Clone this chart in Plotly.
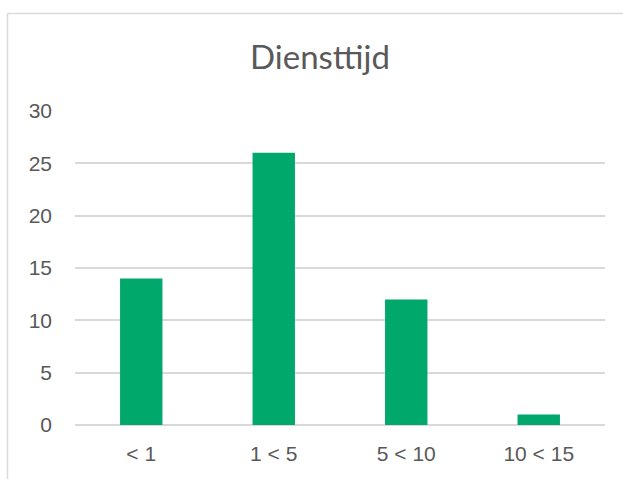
import plotly.graph_objects as go

categories = ["< 1", "1 < 5", "5 < 10", "10 < 15"]
values = [14, 26, 12, 1]
y_ticks = [0, 5, 10, 15, 20, 25, 30]

W, H = 623, 479
ml, mr, mt, mb = 75, 18, 111, 54
pw, ph = W - ml - mr, H - mt - mb

def px_x(x):
    return (x - ml) / pw

def px_y(y):
    return 1 - (y - mt) / ph

fig = go.Figure(go.Bar(
    x=categories, y=values,
    marker=dict(color="#00A86B", line=dict(width=0)),
    width=0.32,
))

border = dict(color="#d9d9d9", width=1.5)
fig.add_shape(type="line", xref="paper", yref="paper",
              x0=px_x(7.5), x1=px_x(7.5), y0=px_y(13.5), y1=px_y(H + 5), line=border)
fig.add_shape(type="line", xref="paper", yref="paper",
              x0=px_x(7.5), x1=px_x(W + 5), y0=px_y(13.5), y1=px_y(13.5), line=border)

tick_font = dict(family="Liberation Sans, Arial, sans-serif", size=21, color="#595959")

fig.update_layout(
    width=W, height=H,
    margin=dict(l=ml, r=mr, t=mt, b=mb),
    paper_bgcolor="white", plot_bgcolor="white",
    showlegend=False,
    title=dict(text="Diensttijd", x=320 / W, xanchor="center", xref="container",
               y=1 - 57 / H, yanchor="middle", yref="container",
               font=dict(family="Lato", size=33, color="#595959")),
    font=tick_font,
)
fig.update_xaxes(showgrid=False, showline=False, ticks="", zeroline=False,
                 ticklabelstandoff=14, tickfont=tick_font)
fig.update_yaxes(range=[0, 30], tickvals=y_ticks, showgrid=True,
                 gridcolor="#d9d9d9", gridwidth=1.5, zeroline=True,
                 zerolinecolor="#d9d9d9", zerolinewidth=1.5, showline=False,
                 ticks="", ticklabelstandoff=22, tickfont=tick_font)

fig.write_html("out.html")
